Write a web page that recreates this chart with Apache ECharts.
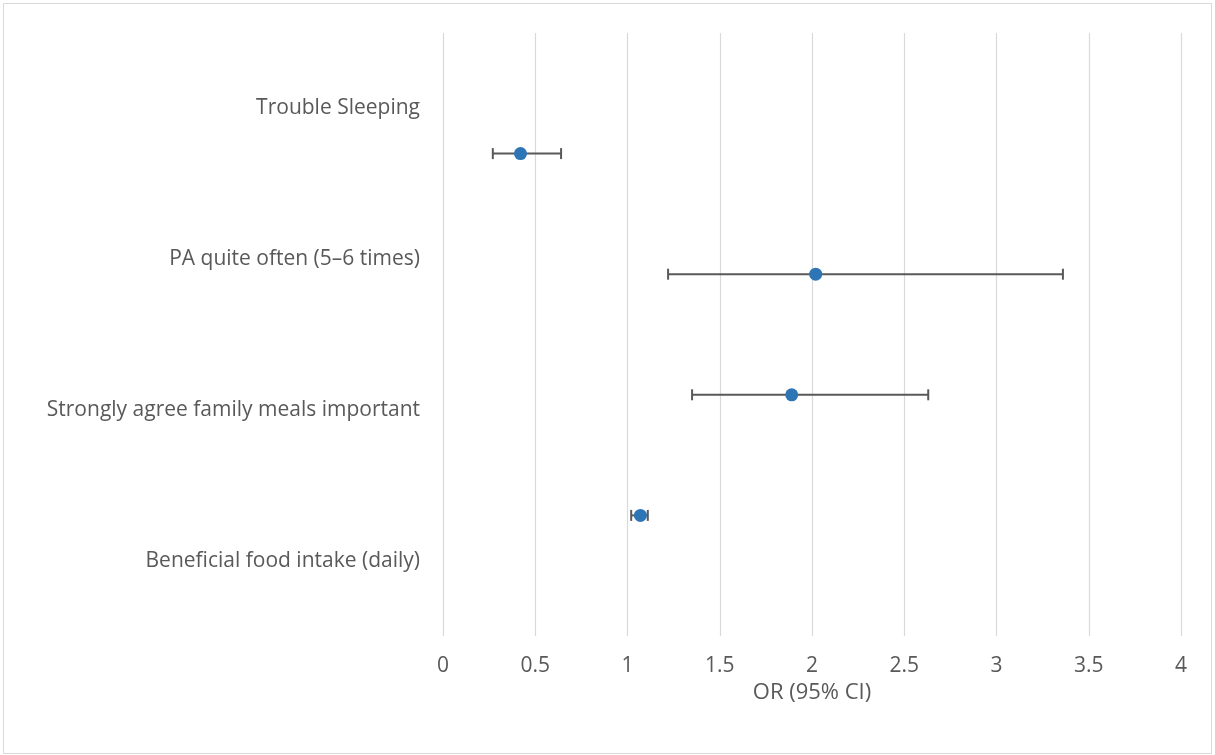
<!DOCTYPE html>
<html>
<head>
<meta charset="utf-8">
<script src="https://cdn.jsdelivr.net/npm/echarts@6/dist/echarts.min.js"></script>
<style>
  html, body { margin: 0; padding: 0; background: #fff; }
  #chart { width: 1215px; height: 755px; }
</style>
</head>
<body>
<div id="chart"></div>
<script>
// ---- data ----
const categories = [
  'Trouble Sleeping',
  'PA quite often (5\u20136 times)',
  'Strongly agree family meals important',
  'Beneficial food intake (daily)'
];
const orValues = [0.42, 2.02, 1.89, 1.07];
const ciLower  = [0.27, 1.22, 1.35, 1.02];
const ciUpper  = [0.64, 3.36, 2.63, 1.11];
const rowPositions = [4, 3, 2, 1];   // secondary (hidden) vertical value axis, 0..5
const xMin = 0, xMax = 4, xInterval = 0.5;
const axisTitle = 'OR (95% CI)';

// ---- build series data ----
const errData = categories.map((c, i) => [ciLower[i], ciUpper[i], rowPositions[i]]);
const pointData = categories.map((c, i) => [orValues[i], rowPositions[i]]);

const FONT = 'Open Sans';
const TXT = '#595959';

const chart = echarts.init(document.getElementById('chart'), null, { renderer: 'canvas' });
chart.setOption({
  backgroundColor: '#ffffff',
  animation: false,
  textStyle: { fontFamily: FONT },
  graphic: [{
    type: 'rect',
    shape: { x: 3.5, y: 3.5, width: 1208, height: 750 },
    style: { fill: 'none', stroke: '#d9d9d9', lineWidth: 1 },
    silent: true
  }],
  grid: { left: 443, right: 34, top: 33, bottom: 119, containLabel: false },
  xAxis: {
    type: 'value',
    min: xMin, max: xMax, interval: xInterval,
    axisLine: { show: false },
    axisTick: { show: false },
    splitLine: { show: true, lineStyle: { color: '#d9d9d9', width: 1.2 } },
    axisLabel: { fontSize: 21, color: TXT, fontFamily: FONT, margin: 20 },
    name: axisTitle,
    nameLocation: 'middle',
    nameGap: 44,
    nameTextStyle: { fontSize: 22, color: TXT, fontFamily: FONT }
  },
  yAxis: [{
    type: 'category',
    data: categories,
    inverse: true,
    axisLine: { show: false },
    axisTick: { show: false },
    splitLine: { show: false },
    axisLabel: { fontSize: 21, color: TXT, fontFamily: FONT, margin: 23 }
  }, {
    type: 'value',
    min: 0, max: 5,
    show: false,
    splitLine: { show: false }
  }],
  series: [{
    type: 'custom',
    yAxisIndex: 1,
    data: errData,
    encode: { x: [0, 1], y: 2 },
    renderItem: function (params, api) {
      const y = api.value(2);
      const p1 = api.coord([api.value(0), y]);
      const p2 = api.coord([api.value(1), y]);
      const h = 5.5;
      const style = { stroke: '#595959', lineWidth: 2, fill: 'none' };
      return {
        type: 'group',
        children: [
          { type: 'line', shape: { x1: p1[0], y1: p1[1], x2: p2[0], y2: p2[1] }, style: style },
          { type: 'line', shape: { x1: p1[0], y1: p1[1] - h, x2: p1[0], y2: p1[1] + h }, style: style },
          { type: 'line', shape: { x1: p2[0], y1: p2[1] - h, x2: p2[0], y2: p2[1] + h }, style: style }
        ]
      };
    },
    z: 2
  }, {
    type: 'scatter',
    yAxisIndex: 1,
    data: pointData,
    symbol: 'circle',
    symbolSize: 13,
    itemStyle: { color: '#2E75B6', opacity: 1 },
    z: 3
  }]
});
</script>
</body>
</html>
